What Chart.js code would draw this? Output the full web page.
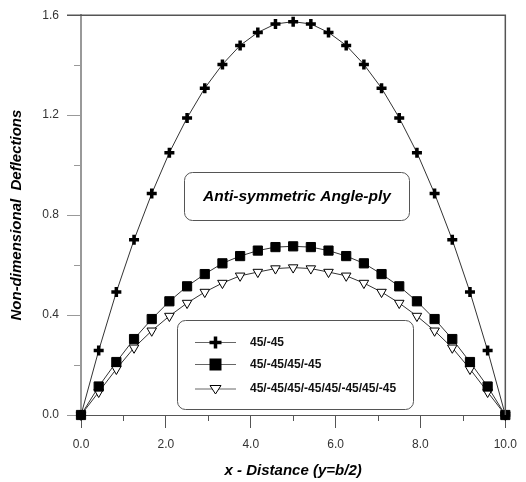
<!DOCTYPE html>
<html>
<head>
<meta charset="utf-8">
<script src="https://cdn.jsdelivr.net/npm/chart.js@4.4.1/dist/chart.umd.min.js"></script>
<style>
  html, body { margin: 0; padding: 0; background: #fff; }
</style>
</head>
<body>
<canvas id="chart" width="526" height="482"></canvas>
<script>
const FONT = "'Liberation Sans', Arial, sans-serif";

// x positions along the plate (y = b/2)
const xValues = [0, 0.417, 0.833, 1.25, 1.667, 2.083, 2.5, 2.917, 3.333, 3.75, 4.167, 4.583, 5,
  5.417, 5.833, 6.25, 6.667, 7.083, 7.5, 7.917, 8.333, 8.75, 9.167, 9.583, 10];

const ply2 = [0, 0.258, 0.492, 0.701, 0.886, 1.050, 1.189, 1.308, 1.403, 1.479, 1.531, 1.565, 1.574,
  1.565, 1.531, 1.479, 1.403, 1.308, 1.189, 1.050, 0.886, 0.701, 0.492, 0.258, 0];
const ply4 = [0, 0.114, 0.212, 0.304, 0.384, 0.455, 0.515, 0.564, 0.607, 0.636, 0.658, 0.672, 0.675,
  0.672, 0.658, 0.636, 0.607, 0.564, 0.515, 0.455, 0.384, 0.304, 0.212, 0.114, 0];
const ply8 = [0, 0.092, 0.184, 0.269, 0.337, 0.396, 0.448, 0.492, 0.528, 0.557, 0.572, 0.586, 0.590,
  0.586, 0.572, 0.557, 0.528, 0.492, 0.448, 0.396, 0.337, 0.269, 0.184, 0.092, 0];

const seriesNames = ["45/-45", "45/-45/45/-45", "45/-45/45/-45/45/-45/45/-45"];
const chartTitle = "Anti-symmetric Angle-ply";
const xMinorTicks = [1, 3, 5, 7, 9];
const yMinorTicks = [0.2, 0.6, 1.0, 1.4];

const toPoints = (ys) => ys.map((y, i) => ({ x: xValues[i], y: y }));

// frame, minor ticks, title box and legend box
const decor = {
  id: "decor",
  afterDatasetsDraw(chart) {
    const ctx = chart.ctx;
    const a = chart.chartArea;
    const xs = chart.scales.x;
    const ys = chart.scales.y;
    ctx.save();

    // top and right frame
    ctx.strokeStyle = "#555";
    ctx.lineWidth = 1.5;
    ctx.beginPath();
    ctx.moveTo(a.left - 14, a.top);
    ctx.lineTo(a.right, a.top);
    ctx.lineTo(a.right, a.bottom);
    ctx.stroke();

    // minor ticks
    ctx.lineWidth = 1;
    ctx.strokeStyle = "#555";
    for (const v of xMinorTicks) {
      const px = Math.round(xs.getPixelForValue(v)) + 0.5;
      ctx.beginPath();
      ctx.moveTo(px, a.bottom);
      ctx.lineTo(px, a.bottom + 6);
      ctx.stroke();
    }
    ctx.strokeStyle = "#999";
    for (const v of yMinorTicks) {
      const py = Math.round(ys.getPixelForValue(v)) + 0.5;
      ctx.beginPath();
      ctx.moveTo(a.left - 7, py);
      ctx.lineTo(a.left, py);
      ctx.stroke();
    }

    // title box
    ctx.fillStyle = "#fff";
    ctx.strokeStyle = "#555";
    ctx.lineWidth = 1;
    ctx.beginPath();
    ctx.roundRect(184.5, 172.5, 225, 48, 8);
    ctx.fill();
    ctx.stroke();
    ctx.fillStyle = "#000";
    ctx.font = "italic bold 15.5px " + FONT;
    ctx.textAlign = "center";
    ctx.textBaseline = "middle";
    ctx.fillText(chartTitle, 297, 197);

    // legend box
    ctx.fillStyle = "#fff";
    ctx.beginPath();
    ctx.roundRect(177.5, 320.5, 236, 89, 8);
    ctx.fill();
    ctx.stroke();

    const rows = [342.5, 364.5, 389];
    ctx.font = "bold 12px " + FONT;
    ctx.textAlign = "left";
    rows.forEach((ry, i) => {
      ctx.strokeStyle = "#666";
      ctx.lineWidth = 1;
      ctx.beginPath();
      ctx.moveTo(195, ry);
      ctx.lineTo(236, ry);
      ctx.stroke();
      const mx = 215.5;
      if (i === 0) {
        ctx.strokeStyle = "#000";
        ctx.lineWidth = 3.5;
        ctx.beginPath();
        ctx.moveTo(mx - 6, ry); ctx.lineTo(mx + 6, ry);
        ctx.moveTo(mx, ry - 6); ctx.lineTo(mx, ry + 6);
        ctx.stroke();
      } else if (i === 1) {
        ctx.fillStyle = "#000";
        ctx.fillRect(mx - 6, ry - 6, 12, 12);
      } else {
        ctx.fillStyle = "#fff";
        ctx.strokeStyle = "#000";
        ctx.lineWidth = 1;
        ctx.beginPath();
        ctx.moveTo(mx - 5.5, ry - 3.5);
        ctx.lineTo(mx + 5.5, ry - 3.5);
        ctx.lineTo(mx, ry + 5);
        ctx.closePath();
        ctx.fill();
        ctx.stroke();
      }
      ctx.fillStyle = "#111";
      ctx.fillText(seriesNames[i], 250, ry);
    });
    ctx.restore();
  }
};

new Chart(document.getElementById("chart"), {
  type: "line",
  data: {
    datasets: [
      {
        label: seriesNames[0],
        data: toPoints(ply2),
        borderColor: "#333",
        borderWidth: 1,
        clip: false,
        pointStyle: "cross",
        pointRadius: 5,
        pointBorderWidth: 3.5,
        pointBorderColor: "#000",
        pointBackgroundColor: "#000",
      },
      {
        label: seriesNames[1],
        data: toPoints(ply4),
        borderColor: "#333",
        borderWidth: 1,
        clip: false,
        pointStyle: "rect",
        pointRadius: 6.5,
        pointBorderWidth: 1,
        pointBorderColor: "#000",
        pointBackgroundColor: "#000",
      },
      {
        label: seriesNames[2],
        data: toPoints(ply8),
        borderColor: "#333",
        borderWidth: 1,
        clip: false,
        pointStyle: "triangle",
        pointRotation: 180,
        pointRadius: 5.5,
        pointBorderWidth: 1,
        pointBorderColor: "#000",
        pointBackgroundColor: "#fff",
      },
    ],
  },
  options: {
    responsive: false,
    animation: false,
    devicePixelRatio: 1,
    layout: { padding: { left: 0, right: 14, top: 8, bottom: 0 } },
    plugins: {
      legend: { display: false },
      tooltip: { enabled: false },
    },
    scales: {
      x: {
        type: "linear",
        min: 0,
        max: 10,
        border: { color: "#555", width: 1 },
        grid: { drawOnChartArea: false, tickLength: 13, tickColor: "#555" },
        ticks: {
          stepSize: 2,
          padding: 9,
          maxRotation: 0,
          color: "#333",
          font: { family: FONT, size: 12 },
          callback: (v) => v.toFixed(1),
        },
        title: {
          display: true,
          text: "x - Distance (y=b/2)",
          color: "#000",
          font: { family: FONT, size: 15, weight: "bold", style: "italic" },
          padding: { top: 0, bottom: 2 },
        },
        afterFit: (s) => { s.height = 67; },
      },
      y: {
        min: 0,
        max: 1.6,
        border: { color: "#999", width: 2 },
        grid: { drawOnChartArea: false, tickLength: 14, tickColor: "#999" },
        ticks: {
          stepSize: 0.4,
          padding: 8,
          color: "#333",
          font: { family: FONT, size: 12 },
          callback: (v) => v.toFixed(1),
        },
        title: {
          display: true,
          text: "Non-dimensional  Deflections",
          color: "#000",
          font: { family: FONT, size: 15, weight: "bold", style: "italic" },
          padding: { top: 7.5, bottom: 0 },
        },
        afterFit: (s) => { s.width = 81; },
      },
    },
  },
  plugins: [decor],
});
</script>
</body>
</html>
